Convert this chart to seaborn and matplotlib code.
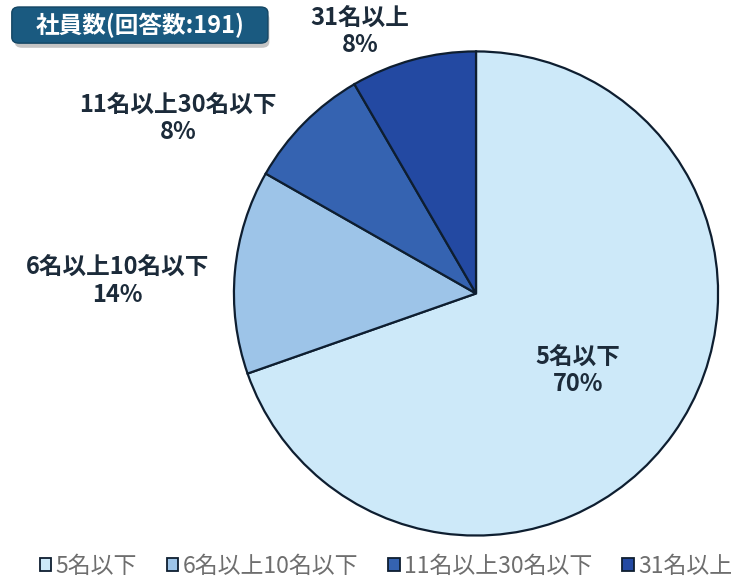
import seaborn as sns
import matplotlib.pyplot as plt
from matplotlib.patches import FancyBboxPatch, Patch
import numpy as np

sns.set_theme(style="white")
plt.rcParams['font.family'] = ['Noto Sans CJK JP', 'DejaVu Sans']

# 社員数（回答数:191）
categories = ["5名以下", "6名以上10名以下", "11名以上30名以下", "31名以上"]
counts = [133, 26, 16, 16]
pct_labels = ["70%", "14%", "8%", "8%"]
colors = ["#CDE9F9", "#9DC4E8", "#3563B1", "#2349A2"]
# ラベル位置（円の中心からの相対位置, 半径=1）
label_pos = [(0.42, -0.32), (-1.48, 0.05), (-1.23, 0.72), (-0.48, 1.08)]

fig = plt.figure(figsize=(7.38, 5.83), dpi=100)
ax = fig.add_axes([0.317, 0.0806, 0.656, 0.832])

wedges, _ = ax.pie(counts, colors=colors, startangle=90, counterclock=False,
                   radius=1.0,
                   wedgeprops=dict(edgecolor="#0E1E30", linewidth=1.6))
ax.set_xlim(-1.0, 1.0)
ax.set_ylim(-1.0, 1.0)
ax.set_aspect("equal")
ax.axis("off")

for (x, y), cat, p in zip(label_pos, categories, pct_labels):
    ax.text(x, y, cat + "\n" + p, ha="center", va="center", fontsize=17,
            fontweight="bold", color="#1C2B3A", linespacing=1.12)

# タイトルボックス
shadow = FancyBboxPatch((0.020, 0.918), 0.345, 0.06, transform=fig.transFigure,
                        boxstyle="round,pad=0,rounding_size=0.01",
                        facecolor="#8a8a8a", edgecolor="none", alpha=0.5)
fig.patches.append(shadow)
box = FancyBboxPatch((0.016, 0.926), 0.347, 0.062, transform=fig.transFigure,
                     boxstyle="round,pad=0,rounding_size=0.01",
                     facecolor="#1A5A80", edgecolor="#134563", linewidth=1)
fig.patches.append(box)
fig.text(0.1895, 0.956, "社員数(回答数:191)", ha="center", va="center",
         fontsize=17, fontweight="bold", color="white")

handles = [Patch(facecolor=c, edgecolor="#0E1E30", linewidth=1.3) for c in colors]
fig.legend(handles, categories, loc="lower center", bbox_to_anchor=(0.523, -0.026),
           ncol=4, frameon=False, fontsize=16.5, handlelength=0.5, handleheight=0.5,
           handletextpad=0.2, columnspacing=1.3, labelcolor="#6E6E6E")

plt.savefig("out.png", dpi=100)
plt.close()
